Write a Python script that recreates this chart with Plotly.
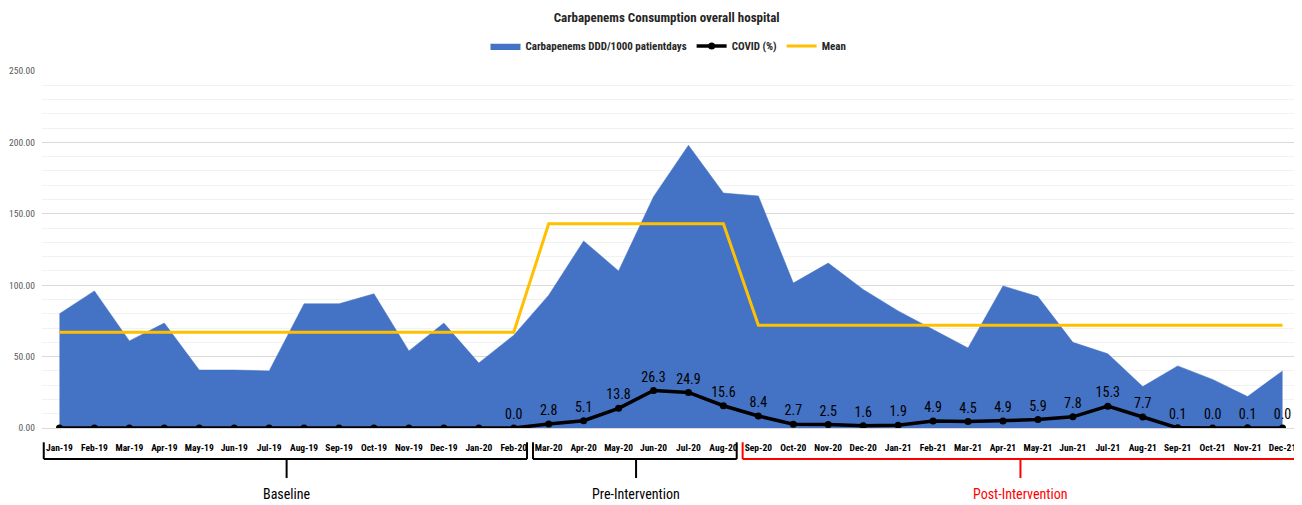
import plotly.graph_objects as go

months = ["Jan-19","Feb-19","Mar-19","Apr-19","May-19","Jun-19","Jul-19","Aug-19","Sep-19","Oct-19","Nov-19","Dec-19",
          "Jan-20","Feb-20","Mar-20","Apr-20","May-20","Jun-20","Jul-20","Aug-20","Sep-20","Oct-20","Nov-20","Dec-20",
          "Jan-21","Feb-21","Mar-21","Apr-21","May-21","Jun-21","Jul-21","Aug-21","Sep-21","Oct-21","Nov-21","Dec-21"]

carbapenems_ddd = [80, 96, 61, 73.5, 40.6, 40.6, 40, 87, 87, 94, 54, 73.5,
                   45.5, 65, 93, 131, 110, 162, 198, 164.5, 162.5, 101.5, 115.5, 97,
                   82, 69, 56, 99.5, 92, 60, 52, 29, 43.5, 34, 22, 40]

covid_pct = [0, 0, 0, 0, 0, 0, 0, 0, 0, 0, 0, 0,
             0, 0.0, 2.8, 5.1, 13.8, 26.3, 24.9, 15.6, 8.4, 2.7, 2.5, 1.6,
             1.9, 4.9, 4.5, 4.9, 5.9, 7.8, 15.3, 7.7, 0.1, 0.0, 0.1, 0.0]

covid_labelled = [False]*13 + [True]*23

mean_line = [67]*14 + [143]*6 + [72]*16

# phase brackets: (label, first category index, last category index, colour)
phases = [("Baseline", 0, 13, "black"),
          ("Pre-Intervention", 14, 19, "black"),
          ("Post-Intervention", 20, 35, "red")]

FONT = "Liberation Sans Narrow, Arial Narrow, Roboto Condensed, sans-serif"

# page shows the figure offset by the default 8px body margin
W, H = 1294, 497

fig = go.Figure()

fig.add_trace(go.Scatter(
    x=months, y=carbapenems_ddd, name="Carbapenems DDD/1000 patientdays",
    mode="lines", fill="tozeroy", fillcolor="#4472C4",
    line=dict(color="#4472C4", width=0.5), legendrank=1,
))

fig.add_trace(go.Scatter(
    x=months, y=mean_line, name="Mean", mode="lines",
    line=dict(color="#FFC000", width=3), legendrank=3,
))

fig.add_trace(go.Scatter(
    x=months, y=covid_pct, name="COVID (%)", mode="lines+markers+text",
    line=dict(color="black", width=3.5), marker=dict(color="black", size=7),
    text=[f"{v:.1f}" if show else "" for v, show in zip(covid_pct, covid_labelled)],
    textposition="top center", textfont=dict(family=FONT, size=14, color="black"),
    legendrank=2,
))

shapes = []
annotations = []
y_top, y_h, y_tick = -0.04, -0.087, -0.14
for label, i0, i1, col in phases:
    x0 = i0 - 0.45
    x1 = i1 + 0.38
    c = (i0 + i1) / 2
    lw = 2
    for (a, b, c0, c1) in [(x0, x0, y_top, y_h), (x0, x1, y_h, y_h), (x1, x1, y_h, y_top), (c, c, y_h, y_tick)]:
        shapes.append(dict(type="line", xref="x", yref="paper", x0=a, x1=b, y0=c0, y1=c1,
                           line=dict(color=col, width=lw)))
    annotations.append(dict(xref="x", yref="paper", x=c, y=-0.185, text=label, showarrow=False,
                            yanchor="middle", font=dict(family=FONT, size=14, color=col)))

fig.update_layout(
    width=W, height=H,
    margin=dict(l=34, r=2, t=63, b=77, autoexpand=False),
    plot_bgcolor="white", paper_bgcolor="white",
    font=dict(family=FONT),
    title=dict(text="<b>Carbapenems Consumption overall hospital</b>", x=0.509, xanchor="center",
               y=1 - 9/H, yanchor="middle", font=dict(family=FONT, size=13, color="#262626")),
    legend=dict(orientation="h", x=0.498, xanchor="center", yref="container", y=1 - 38/H, yanchor="middle",
                font=dict(family=FONT, size=11, color="#262626", weight="bold"), itemwidth=30,
                bgcolor="rgba(0,0,0,0)"),
    shapes=shapes, annotations=annotations,
    showlegend=True,
)

fig.update_xaxes(type="category", range=[-0.5, 35.5], showgrid=False, showline=True,
                 linecolor="#D9D9D9", ticks="", ticklabelstandoff=11, automargin=False,
                 tickfont=dict(family=FONT, size=9.5, color="black", weight="bold"))
fig.update_yaxes(range=[0, 250], dtick=50, tickformat=".2f", showgrid=True, gridcolor="#D9D9D9",
                 zeroline=False, ticks="", ticklabelstandoff=6, automargin=False,
                 minor=dict(dtick=10, showgrid=True, gridcolor="#F2F2F2"),
                 tickfont=dict(family=FONT, size=9.5, color="#595959"))

fig.write_html("out.html")
